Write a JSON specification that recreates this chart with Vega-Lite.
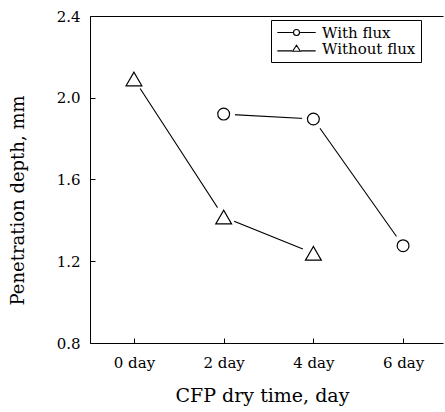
{
  "$schema": "https://vega.github.io/schema/vega-lite/v6.json",
  "width": 353,
  "height": 327,
  "autosize": {"type": "none"},
  "padding": {"left": 90, "top": 16, "right": 2, "bottom": 69},
  "background": "white",
  "config": {
    "view": {"stroke": null},
    "font": "DejaVu Serif",
    "axis": {
      "domainColor": "black",
      "domainWidth": 1,
      "tickColor": "black",
      "labelColor": "black",
      "titleColor": "black",
      "labelFont": "DejaVu Serif",
      "titleFont": "DejaVu Serif",
      "labelFontSize": 15,
      "titleFontWeight": "normal",
      "grid": false
    }
  },
  "data": {
    "values": [
      {"series": "With flux", "day": 2, "depth": 1.92},
      {"series": "With flux", "day": 4, "depth": 1.896},
      {"series": "With flux", "day": 6, "depth": 1.276},
      {"series": "Without flux", "day": 0, "depth": 2.092},
      {"series": "Without flux", "day": 2, "depth": 1.416},
      {"series": "Without flux", "day": 4, "depth": 1.239}
    ]
  },
  "resolve": {
    "scale": {"shape": "independent", "size": "independent"},
    "axis": {"x": "independent", "y": "independent"}
  },
  "layer": [
    {
      "mark": {"type": "line", "stroke": "black", "strokeWidth": 1.1},
      "encoding": {
        "x": {
          "field": "day", "type": "quantitative",
          "scale": {"domain": [-0.98, 6.89], "nice": false, "zero": false},
          "axis": {
            "orient": "bottom",
            "values": [0, 2, 4, 6],
            "labelExpr": "datum.value + ' day'",
            "tickSize": -5,
            "labelPadding": 17,
            "labelFlush": false,
            "title": "CFP dry time, day",
            "titleFontSize": 19,
            "titleX": 172,
            "titleY": 52,
            "titleBaseline": "middle"
          }
        },
        "y": {
          "field": "depth", "type": "quantitative",
          "scale": {"domain": [0.8, 2.4], "nice": false, "zero": false},
          "axis": {
            "values": [0.8, 1.2, 1.6, 2.0, 2.4],
            "format": ".1f",
            "tickSize": -5,
            "labelPadding": 15,
            "labelFlush": false,
            "title": "Penetration depth, mm",
            "titleFontSize": 18,
            "titleX": -72,
            "titleY": 184,
            "titleBaseline": "middle"
          }
        },
        "detail": {"field": "series"},
        "order": {"field": "day"}
      }
    },
    {
      "mark": {"type": "point", "shape": "circle", "filled": true, "fill": "white", "opacity": 1, "size": 520, "strokeWidth": 0},
      "encoding": {
        "x": {
          "field": "day", "type": "quantitative",
          "axis": {"orient": "top", "labels": false, "ticks": false, "title": null, "domain": true}
        },
        "y": {"field": "depth", "type": "quantitative", "axis": null}
      }
    },
    {
      "mark": {"type": "point", "filled": true, "fill": "white", "stroke": "black", "strokeWidth": 1.2, "opacity": 1},
      "encoding": {
        "x": {"field": "day", "type": "quantitative", "axis": null},
        "y": {"field": "depth", "type": "quantitative", "axis": null},
        "shape": {
          "field": "series", "type": "nominal",
          "scale": {"domain": ["With flux", "Without flux"], "range": ["circle", "triangle-up"]},
          "legend": null
        },
        "size": {
          "field": "series", "type": "nominal",
          "scale": {"domain": ["With flux", "Without flux"], "range": [140, 250]},
          "legend": null
        }
      }
    },
    {
      "transform": [{"filter": "datum.depth < 0"}],
      "mark": {"type": "point", "filled": false, "stroke": "black", "color": "black", "strokeWidth": 1.1, "opacity": 1},
      "encoding": {
        "x": {"field": "day", "type": "quantitative", "axis": null},
        "y": {"field": "depth", "type": "quantitative", "axis": null},
        "shape": {
          "field": "series", "type": "nominal",
          "scale": {
            "domain": ["With flux", "Without flux"],
            "range": [
              "M-3.2,0H-0.6M0.6,0H3.2M0.5,0A0.5,0.5 0 1,1 -0.5,0A0.5,0.5 0 1,1 0.5,0",
              "M-3.2,0.4H-0.75M0.75,0.4H3.2M0,-0.55L-0.65,0.45L0.65,0.45Z"
            ]
          },
          "legend": {
            "title": null,
            "orient": "none",
            "legendX": 181,
            "legendY": 4,
            "padding": 5,
            "strokeColor": "black",
            "fillColor": "white",
            "symbolSize": 144,
            "symbolOffset": 13,
            "labelOffset": 18,
            "symbolStrokeColor": "black",
            "symbolStrokeWidth": 1.1,
            "symbolOpacity": 1,
            "labelFont": "DejaVu Serif",
            "labelFontSize": 15,
            "labelColor": "black",
            "rowPadding": 0
          }
        }
      }
    }
  ]
}
